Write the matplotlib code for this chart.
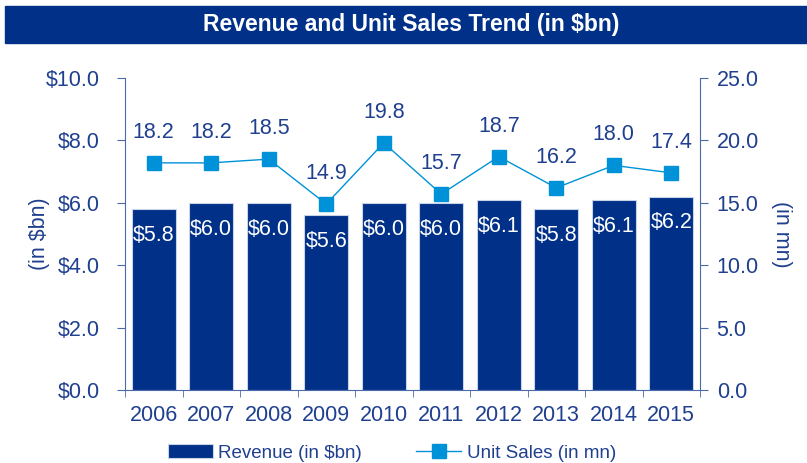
import matplotlib.pyplot as plt
import numpy as np

plt.rcParams['font.family'] = ['Liberation Sans', 'DejaVu Sans']

years = ['2006', '2007', '2008', '2009', '2010', '2011', '2012', '2013', '2014', '2015']
revenue = [5.8, 6.0, 6.0, 5.6, 6.0, 6.0, 6.1, 5.8, 6.1, 6.2]
units = [18.2, 18.2, 18.5, 14.9, 19.8, 15.7, 18.7, 16.2, 18.0, 17.4]

dark = '#003087'
light = '#0092d8'
txt = '#1f3f8f'
fs = 15.5

fig = plt.figure(figsize=(8.07, 4.63), dpi=100)

# title banner
fig.patches.append(plt.Rectangle((5 / 807, 1 - 43 / 463), 1, 37 / 463,
                                 transform=fig.transFigure, color=dark, zorder=0))
fig.text(0.51, 1 - 24 / 463, 'Revenue and Unit Sales Trend (in $bn)', color='white',
         fontsize=16.5, fontweight='bold', ha='center', va='center')

ax = fig.add_axes([125 / 807, 1 - 390 / 463, 575 / 807, 312 / 463])
x = np.arange(len(years))
bars = ax.bar(x, revenue, width=0.77, color=dark, edgecolor='#c8d3e8', linewidth=0.8,
              label='Revenue (in $bn)')
for xi, v in zip(x, revenue):
    ax.annotate(f'${v:.1f}', (xi, v), xytext=(0, -19), textcoords='offset points',
                ha='center', va='center', color='white', fontsize=fs)

ax.set_xlim(-0.5, len(years) - 0.5)
ax.set_ylim(0, 10)
ax.set_yticks(np.arange(0, 10.1, 2))
ax.set_yticklabels([f'${v:.1f}' for v in np.arange(0, 10.1, 2)])
ax.set_xticks(x)
ax.set_xticklabels(years)
ax.set_xticks(np.arange(-0.5, len(years)), minor=True)
ax.tick_params(axis='x', which='major', length=0, labelsize=fs, labelcolor=txt, pad=11)
ax.tick_params(axis='x', which='minor', length=5, color='#4a6aa8', direction='out')
ax.tick_params(axis='y', labelsize=fs, labelcolor=txt, color='#4a6aa8', length=6, pad=12)
ax.set_ylabel('(in $bn)', color=txt, fontsize=fs, labelpad=-3)
for s in ['top', 'right']:
    ax.spines[s].set_visible(False)
ax.spines['left'].set_color('#4a6aa8')
ax.spines['bottom'].set_color('#4a6aa8')

ax2 = ax.twinx()
line, = ax2.plot(x, units, color=light, linewidth=1, marker='s', markersize=10,
                 markerfacecolor=light, markeredgecolor=light, label='Unit Sales (in mn)')
for xi, v in zip(x, units):
    ax2.annotate(f'{v:.1f}', (xi, v), xytext=(0, 22), textcoords='offset points',
                 ha='center', va='center', color=txt, fontsize=fs)
ax2.set_ylim(0, 25)
ax2.set_yticks(np.arange(0, 25.1, 5))
ax2.set_yticklabels([f'{v:.1f}' for v in np.arange(0, 25.1, 5)])
ax2.tick_params(axis='y', labelsize=fs, labelcolor=txt, color='#4a6aa8', length=6, pad=6)
ax2.set_ylabel('(in mn)', color=txt, fontsize=fs, rotation=270, labelpad=24)
for s in ['top', 'left', 'bottom']:
    ax2.spines[s].set_visible(False)
ax2.spines['right'].set_color('#4a6aa8')

fig.legend([bars, line], ['Revenue (in $bn)', 'Unit Sales (in mn)'], loc='center',
           bbox_to_anchor=(392 / 807, 1 - 453 / 463), ncol=2, frameon=False, fontsize=13.5,
           labelcolor=txt, handlelength=2.4, columnspacing=2.9, handletextpad=0.3)

fig.savefig('out.png', dpi=100)
